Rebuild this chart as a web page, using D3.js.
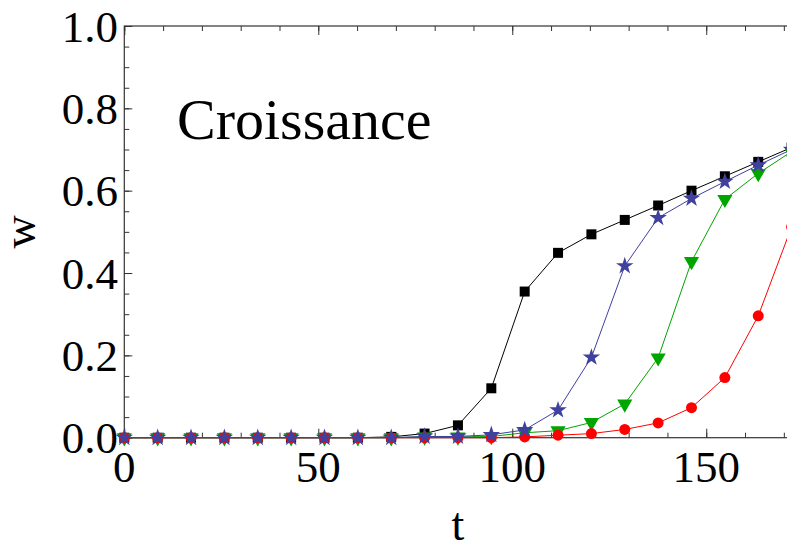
<!DOCTYPE html>
<html>
<head>
<meta charset="utf-8">
<script src="https://d3js.org/d3.v7.min.js"></script>
<style>
  body { margin: 0; background: white; }
  #chart { width: 787px; height: 547px; }
</style>
</head>
<body>
<div id="chart"></div>
<script>
// time points (t)
var tValues = [0, 8.6, 17.2, 25.8, 34.4, 43, 51.6, 60.2, 68.8, 77.4, 86, 94.6,
  103.2, 111.8, 120.4, 129, 137.6, 146.2, 154.8, 163.4, 172];

// w for each curve
var blackW = [0, 0, 0, 0, 0, 0, 0, 0, 0.002, 0.01, 0.03, 0.12,
  0.355, 0.449, 0.494, 0.529, 0.564, 0.6, 0.635, 0.67, 0.705];
var blueW = [0, 0, 0, 0, 0, 0, 0, 0, 0, 0.003, 0.003, 0.007,
  0.019, 0.067, 0.195, 0.417, 0.534, 0.581, 0.622, 0.662, 0.7];
var greenW = [0, 0, 0, 0, 0, 0, 0, 0, 0, 0.002, 0.002, 0.003,
  0.012, 0.017, 0.037, 0.082, 0.194, 0.428, 0.579, 0.642, 0.695];
var redW = [0, 0, 0, 0, 0, 0, 0, 0, 0, 0, 0, 0,
  0.002, 0.006, 0.01, 0.02, 0.036, 0.073, 0.146, 0.296, 0.512];

// tick labels
var xTickLabels = [0, 50, 100, 150];
var yTickLabels = [0.0, 0.2, 0.4, 0.6, 0.8, 1.0];

// margins for the plot frame
var margin = {
  top: 26,
  right: -4.6,
  bottom: 109.3,
  left: 124.3
};

var width = 787;
var height = 547;
var serif = "'Liberation Serif', 'Times New Roman', Tinos, Times, 'DejaVu Serif', serif";

// append the svg
var svg = d3.select("#chart")
  .append("svg")
  .attr("width", width)
  .attr("height", height)
  .attr("font-family", serif);

// x and y scaling
var xScale = d3.scaleLinear()
  .domain([0, 172])
  .range([margin.left, width - margin.right]);

var yScale = d3.scaleLinear()
  .domain([0, 1])
  .range([height - margin.bottom, margin.top]);

var frameColor = "#333";

// minor and major ticks for the x axis (bottom and top, pointing inward)
var xMinor = d3.range(0, 171, 10);
var yMinor = d3.range(0, 1.0001, 0.05);

svg.append("g")
  .attr("transform", "translate(0," + yScale(0) + ")")
  .call(d3.axisBottom(xScale).tickValues(xMinor).tickSize(-5).tickFormat(""))
  .call(function(g) { g.select(".domain").remove(); });

svg.append("g")
  .attr("transform", "translate(0," + yScale(0) + ")")
  .call(d3.axisBottom(xScale).tickValues(xTickLabels).tickSize(-9).tickFormat(""))
  .call(function(g) { g.select(".domain").remove(); });

svg.append("g")
  .attr("transform", "translate(0," + yScale(1) + ")")
  .call(d3.axisTop(xScale).tickValues(xMinor).tickSize(-5).tickFormat(""))
  .call(function(g) { g.select(".domain").remove(); });

svg.append("g")
  .attr("transform", "translate(0," + yScale(1) + ")")
  .call(d3.axisTop(xScale).tickValues(xTickLabels).tickSize(-9).tickFormat(""))
  .call(function(g) { g.select(".domain").remove(); });

// y ticks on the left side
svg.append("g")
  .attr("transform", "translate(" + xScale(0) + ",0)")
  .call(d3.axisLeft(yScale).tickValues(yMinor).tickSize(-5).tickFormat(""))
  .call(function(g) { g.select(".domain").remove(); });

svg.append("g")
  .attr("transform", "translate(" + xScale(0) + ",0)")
  .call(d3.axisLeft(yScale).tickValues(yTickLabels).tickSize(-8).tickFormat(""))
  .call(function(g) { g.select(".domain").remove(); });

svg.selectAll(".tick line").attr("stroke", frameColor).attr("stroke-width", 1);

// the frame
svg.append("rect")
  .attr("x", xScale(0))
  .attr("y", yScale(1))
  .attr("width", xScale(172) - xScale(0))
  .attr("height", yScale(0) - yScale(1))
  .attr("fill", "none")
  .attr("stroke", frameColor)
  .attr("stroke-width", 1.2);

// x tick labels
svg.selectAll("xlabels")
  .data(xTickLabels)
  .enter()
  .append("text")
  .attr("x", function(d) { return xScale(d); })
  .attr("y", 482)
  .attr("text-anchor", "middle")
  .attr("font-family", serif)
  .style("font-size", "45px")
  .text(function(d) { return d; });

// y tick labels
svg.selectAll("ylabels")
  .data(yTickLabels)
  .enter()
  .append("text")
  .attr("x", 118)
  .attr("y", function(d) { return yScale(d); })
  .attr("dy", "0.35em")
  .attr("text-anchor", "end")
  .attr("font-family", serif)
  .style("font-size", "45px")
  .text(function(d) { return d3.format(".1f")(d); });

// axis labels
svg.append("text")
  .attr("text-anchor", "middle")
  .attr("x", (xScale(0) + xScale(172)) / 2)
  .attr("y", 540)
  .attr("font-family", serif)
  .style("font-size", "46px")
  .text("t");

svg.append("text")
  .attr("text-anchor", "middle")
  .attr("transform", "translate(35," + yScale(0.5) + ") rotate(-90)")
  .attr("font-family", serif)
  .style("font-size", "46px")
  .text("w");

// chart label
svg.append("text")
  .attr("x", 177)
  .attr("y", 139)
  .attr("font-family", serif)
  .style("font-size", "58px")
  .text("Croissance");

// the series, drawn in this order
var series = [
  { values: blackW, color: "#000000", symbol: d3.symbolSquare, size: 100, rotate: 0 },
  { values: greenW, color: "#00a500", symbol: d3.symbolTriangle, size: 100, rotate: 180 },
  { values: redW, color: "#ff0000", symbol: d3.symbolCircle, size: 95, rotate: 0 },
  { values: blueW, color: "#40409f", symbol: d3.symbolStar, size: 95, rotate: 0 }
];

var line = d3.line()
  .x(function(d) { return xScale(d.t); })
  .y(function(d) { return yScale(d.w); });

series.forEach(function(s) {
  var points = tValues.map(function(t, i) {
    return { t: t, w: s.values[i] };
  });

  svg.append("path")
    .datum(points)
    .attr("fill", "none")
    .attr("stroke", s.color)
    .attr("stroke-width", 1)
    .attr("d", line);

  svg.selectAll(null)
    .data(points)
    .enter()
    .append("path")
    .attr("d", d3.symbol().type(s.symbol).size(s.size))
    .attr("transform", function(d) {
      return "translate(" + xScale(d.t) + "," + yScale(d.w) + ") rotate(" + s.rotate + ")";
    })
    .attr("fill", s.color);
});
</script>
</body>
</html>
